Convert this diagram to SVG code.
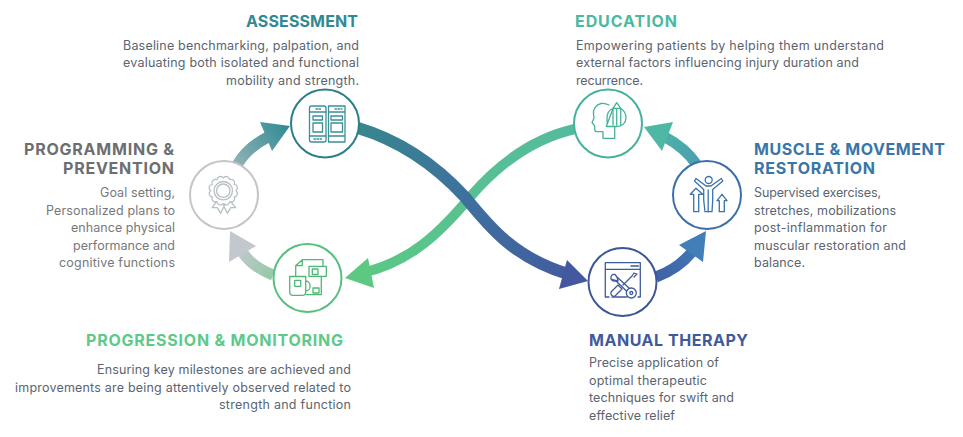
<svg xmlns="http://www.w3.org/2000/svg" width="963" height="437" viewBox="0 0 963 437">
<style>
text{font-family:"Inter","Open Sans","Liberation Sans",sans-serif}
.h{font-size:16px;font-weight:700}
.b{font-size:12.5px;fill:#5b6470}
.g{fill:#77787b}
.e{text-anchor:end}
.i{fill:none;stroke-width:1.3;stroke-linejoin:round;stroke-linecap:round}
.c{fill:#fff;stroke-width:2}
.band{fill:none;stroke-linecap:butt}
</style>
<defs>
<linearGradient id="gBlue" gradientUnits="userSpaceOnUse" x1="359" y1="128" x2="588" y2="281"><stop offset="0" stop-color="#37868f"/><stop offset="0.5" stop-color="#3f6f9e"/><stop offset="1" stop-color="#42599f"/></linearGradient>
<linearGradient id="gGreen" gradientUnits="userSpaceOnUse" x1="575" y1="129" x2="345" y2="278"><stop offset="0" stop-color="#55ba9f"/><stop offset="1" stop-color="#5bc982"/></linearGradient>
<linearGradient id="gTL" gradientUnits="userSpaceOnUse" x1="237" y1="165" x2="290" y2="126"><stop offset="0" stop-color="#8fb2b6"/><stop offset="1" stop-color="#2f8a93"/></linearGradient>
<linearGradient id="gBL" gradientUnits="userSpaceOnUse" x1="275" y1="275" x2="230" y2="235"><stop offset="0" stop-color="#94c9a6"/><stop offset="0.7" stop-color="#c0c8cc"/><stop offset="1" stop-color="#c4c8d0"/></linearGradient>
<linearGradient id="gTR" gradientUnits="userSpaceOnUse" x1="697" y1="165" x2="644" y2="127"><stop offset="0" stop-color="#4a9fb0"/><stop offset="1" stop-color="#4fb8a4"/></linearGradient>
<linearGradient id="gBR" gradientUnits="userSpaceOnUse" x1="656" y1="278" x2="706" y2="231"><stop offset="0" stop-color="#3f62a4"/><stop offset="1" stop-color="#427fb8"/></linearGradient>
</defs>
<g id="connectors">
<path class="band" d="M575 129C530 139 495 168 470 197C440 233 410 262 362 273" stroke="url(#gGreen)" stroke-width="10"/>
<polygon points="345,278 368,258 374,288" fill="#5bc982"/>
<path class="band" d="M358 128C405 142 440 170 465 197C490 228 515 258 568 274" stroke="url(#gBlue)" stroke-width="12"/>
<polygon points="588,281 567,260 559,289" fill="#43589f"/>
<path class="band" d="M237 165C244 153 254 144 268 137" stroke="url(#gTL)" stroke-width="11"/>
<polygon points="290,126 260,122 272,151" fill="url(#gTL)"/>
<path class="band" d="M273 275C260 270 250 263 243 253" stroke="url(#gBL)" stroke-width="11"/>
<polygon points="230,231 256,246 229,262" fill="#c3c8cf"/>
<path class="band" d="M697 165C689 153 680 145 665 137" stroke="url(#gTR)" stroke-width="11"/>
<polygon points="644,127 673,122 662,151" fill="#4fb8a4"/>
<path class="band" d="M656 277C670 272 682 264 692 252" stroke="url(#gBR)" stroke-width="11"/>
<polygon points="706,231 679,245 703,262" fill="#427fb8"/>
</g>
<g id="assessment">
<circle class="c" cx="325" cy="123.5" r="34" stroke="#2a7f88"/>
<g class="i" stroke="#3a8f97">
<rect x="309.5" y="106" width="16.5" height="36" rx="2"/>
<path d="M328.5 106H345V142H328.5ZM309.5 112H326M309.5 136H326M328.5 112H345M328.5 136H345"/>
<rect x="313" y="116" width="9.5" height="4"/><rect x="313" y="123" width="9.5" height="9"/>
<rect x="331" y="116" width="11.5" height="4"/><rect x="331" y="123" width="11.5" height="9"/>
<path d="M316 109H322M335 109H342M314 139H322" stroke-dasharray="1.5 1.5"/>
</g>
<text class="h" x="358" y="27" text-anchor="end" fill="#2f8a93" textLength="112" lengthAdjust="spacing">ASSESSMENT</text>
<text class="b e" x="359" y="49.5" textLength="236">Baseline benchmarking, palpation, and</text>
<text class="b e" x="359" y="67" textLength="236">evaluating both isolated and functional</text>
<text class="b e" x="359" y="84.5" textLength="133">mobility and strength.</text>
</g>
<g id="education">
<circle class="c" cx="608" cy="123.5" r="34" stroke="#45b29c"/>
<g class="i" stroke="#45b29c">
<path d="M609 105C605 103 603 103 601 103.5C595 105 593 110 593.5 114L594 118L592 122.7L594.7 126V130C595 131.5 596 131.7 597 131.7H603V138.3H614.7V127.3"/>
<path d="M606.3 126.5H616.3C622 126.5 626 123 626 118C626 113 623 109.5 620.7 108.5M613 108.5C609 110 607 114 607 118C607 121 608 124 606.3 126.5Z"/>
<path d="M613 125V108.3L616.7 102.7L620.7 108.3V125M616.7 108.3V125M613 108.3H620.7"/>
</g>
<text class="h" x="575" y="27" fill="#4db89f" textLength="102">EDUCATION</text>
<text class="b" x="576" y="49.5" textLength="308">Empowering patients by helping them understand</text>
<text class="b" x="576" y="67" textLength="283">external factors influencing injury duration and</text>
<text class="b" x="576" y="84.5" textLength="67">recurrence.</text>
</g>
<g id="programming">
<circle class="c" cx="224" cy="195" r="34" stroke="#c3c5c9"/>
<g class="i" stroke="#b5c0c2">
<circle cx="223.3" cy="190.7" r="6.7"/>
<circle cx="223.3" cy="190.7" r="9.2"/>
<path d="M236 190.7A3.5 3.5 0 0 1 234.3 197A3.5 3.5 0 0 1 229.65 201.7A3.5 3.5 0 0 1 223.3 203.4A3.5 3.5 0 0 1 216.95 201.7A3.5 3.5 0 0 1 212.3 197A3.5 3.5 0 0 1 210.6 190.7A3.5 3.5 0 0 1 212.3 184.35A3.5 3.5 0 0 1 216.95 179.7A3.5 3.5 0 0 1 223.3 178A3.5 3.5 0 0 1 229.65 179.7A3.5 3.5 0 0 1 234.3 184.35A3.5 3.5 0 0 1 236 190.7Z"/>
<path d="M216.3 201.7L212.3 207.7L217.3 207.7L220.7 213.3L225 204.3M230.7 201.7L235.7 207.7L230.7 207.7L227.3 213.3L223.3 205"/>
</g>
<text class="h e" x="174" y="155" fill="#6d6e71" textLength="150">PROGRAMMING &amp;</text>
<text class="h e" x="174" y="174" fill="#6d6e71" textLength="111">PREVENTION</text>
<text class="b g e" x="175" y="197" textLength="75">Goal setting,</text>
<text class="b g e" x="175" y="214.5" textLength="129">Personalized plans to</text>
<text class="b g e" x="175" y="232" textLength="104">enhance physical</text>
<text class="b g e" x="175" y="250" textLength="102">performance and</text>
<text class="b g e" x="175" y="267" textLength="116">cognitive functions</text>
</g>
<g id="muscle">
<circle class="c" cx="707" cy="195" r="34" stroke="#3a6fa8"/>
<g class="i" stroke="#3a72aa">
<circle cx="708.7" cy="180" r="3.5"/>
<path d="M696 178.5L694.5 181L703.7 189.5V200L705 211.7H712L712.7 200V189.5L722.8 181L721.3 178.5L711 186H706Z"/>
<path d="M708.2 190V200M708.2 200V211.7"/>
<path d="M693.7 211.7V194.3H690.3L696 188.3L702.7 194.3H698.7V211.7Z"/>
<path d="M719.3 211.7V200.7H717L722 194.3L727 200.7H724.3V211.7Z"/>
</g>
<text class="h" x="754" y="155" fill="#3a75a8" textLength="191">MUSCLE &amp; MOVEMENT</text>
<text class="h" x="754" y="174" fill="#3a75a8" textLength="121">RESTORATION</text>
<text class="b" x="754" y="197" textLength="127">Supervised exercises,</text>
<text class="b" x="754" y="214.5" textLength="142">stretches, mobilizations</text>
<text class="b" x="754" y="232" textLength="133">post-inflammation for</text>
<text class="b" x="754" y="250" textLength="152">muscular restoration and</text>
<text class="b" x="754" y="267" textLength="51">balance.</text>
</g>
<g id="manual">
<circle class="c" cx="622.5" cy="282" r="34" stroke="#3c5697"/>
<g class="i" stroke="#3f5a9c">
<path d="M609 297H605.3V262.7H640.3V297H638M605.3 269.3H640.3M631 266H638.5" />
<path d="M615 274.5C612 274 610.5 276 611 279L618 281L617 277ZM611 279C612 281 614 281.5 616 281L626.5 291M617 277L629 288"/>
<circle cx="631.3" cy="293" r="5"/><circle cx="631.3" cy="293" r="1.5"/>
<path d="M634 277L637 274L634 273L632 276L623 285"/>
<path d="M611 292L618 285L622 289L615 296C613 297 610 295 611 292Z"/>
<path d="M612 297H627"/>
</g>
<text class="h" x="589" y="346" fill="#3f5a9c" textLength="159">MANUAL THERAPY</text>
<text class="b" x="589" y="367" textLength="130">Precise application of</text>
<text class="b" x="589" y="385" textLength="118">optimal therapeutic</text>
<text class="b" x="589" y="402" textLength="145">techniques for swift and</text>
<text class="b" x="589" y="420" textLength="86">effective relief</text>
</g>
<g id="progression">
<circle class="c" cx="307.5" cy="278" r="34" stroke="#57c07e"/>
<g class="i" stroke="#4fb877">
<path d="M295.7 275.5V265.7L302.3 259.7H323V266.3M302.3 259.7V265.7H295.7"/>
<path d="M309 266.3H326.3V276.3H309ZM321.3 276.3V294.7H306.3"/>
<path d="M289.7 276.5H305.7V292C305.7 294 304.5 295.3 302.5 295.3H293C291 295.3 289.7 294 289.7 292ZM305.7 281C311.5 281 311.5 291 305.7 291"/>
<rect x="294.7" y="280.3" width="6" height="6"/><rect x="313" y="288" width="6" height="5"/><rect x="312.3" y="269" width="5.7" height="5.5"/>
</g>
<text class="h" x="86" y="346" fill="#5ec98a" textLength="257">PROGRESSION &amp; MONITORING</text>
<text class="b e" x="351" y="374" textLength="254">Ensuring key milestones are achieved and</text>
<text class="b e" x="351" y="392" textLength="336">improvements are being attentively observed related to</text>
<text class="b e" x="351" y="409" textLength="132">strength and function</text>
</g>
</svg>
